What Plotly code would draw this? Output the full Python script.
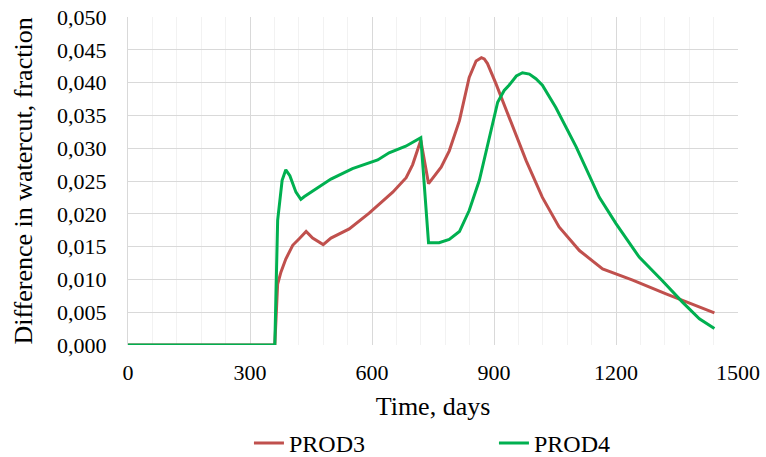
import plotly.graph_objects as go

# PROD3 watercut difference (days, fraction)
prod3_days = [0, 361, 368, 376, 388, 405, 421, 438, 454, 480, 499, 544, 593, 651,
              684, 700, 720, 739, 770, 790, 815, 839, 856, 869, 876, 884, 905, 937,
              979, 1019, 1060, 1110, 1167, 1241, 1323, 1442]
prod3_vals = [0.0, 0.0, 0.0093, 0.0111, 0.0131, 0.0152, 0.0162, 0.0173, 0.0163, 0.0153,
              0.0163, 0.0177, 0.0201, 0.0233, 0.0255, 0.0275, 0.0312, 0.0246, 0.0271,
              0.0296, 0.0342, 0.0408, 0.0433, 0.0438, 0.0436, 0.0429, 0.0398, 0.0347,
              0.0281, 0.0225, 0.0180, 0.0144, 0.0116, 0.0099, 0.0078, 0.0049]

# PROD4 watercut difference (days, fraction)
prod4_days = [0, 361, 368, 379, 388, 398, 413, 425, 433, 462, 499, 552, 614, 642,
              683, 720, 739, 765, 790, 815, 839, 864, 888, 909, 925, 937, 955, 970,
              987, 1003, 1019, 1052, 1102, 1159, 1200, 1257, 1314, 1364, 1405, 1442]
prod4_vals = [0.0, 0.0, 0.0190, 0.0251, 0.0267, 0.0258, 0.0233, 0.0222, 0.0226, 0.0238,
              0.0253, 0.0269, 0.0282, 0.0293, 0.0303, 0.0316, 0.0156, 0.0156, 0.0161,
              0.0173, 0.0205, 0.0251, 0.0317, 0.0370, 0.0388, 0.0396, 0.0410, 0.0415,
              0.0413, 0.0406, 0.0396, 0.0362, 0.0302, 0.0225, 0.0185, 0.0134, 0.0098,
              0.0065, 0.0040, 0.0025]

x_ticks = [0, 300, 600, 900, 1200, 1500]
y_ticks = [0.000, 0.005, 0.010, 0.015, 0.020, 0.025, 0.030, 0.035, 0.040, 0.045, 0.050]

FONT = "Liberation Serif, Times New Roman, serif"

fig = go.Figure()
fig.add_trace(go.Scatter(x=prod3_days, y=prod3_vals, mode="lines", name="PROD3",
                         line=dict(color="#C0504D", width=3)))
fig.add_trace(go.Scatter(x=prod4_days, y=prod4_vals, mode="lines", name="PROD4",
                         line=dict(color="#00B050", width=3)))

fig.update_layout(
    width=766, height=457,
    margin=dict(l=128, r=28, t=17, b=112, autoexpand=False),
    paper_bgcolor="white", plot_bgcolor="white",
    separators=",.",
    font=dict(family=FONT, size=22, color="#000000"),
    showlegend=True,
    legend=dict(orientation="h", xref="container", x=0.325, xanchor="left",
                yref="container", y=0.03, yanchor="middle",
                font=dict(family=FONT, size=24, color="#000000"),
                entrywidth=200, entrywidthmode="pixels",
                itemwidth=30, bgcolor="rgba(0,0,0,0)"),
)

fig.update_xaxes(
    range=[0, 1500], tickvals=x_ticks, ticktext=[str(v) for v in x_ticks],
    tickfont=dict(family=FONT, size=22, color="#000000"),
    showgrid=True, gridcolor="#D9D9D9", gridwidth=1,
    minor=dict(dtick=60, tick0=0, showgrid=True, gridcolor="#F2F2F2", gridwidth=1),
    zeroline=False, showline=False, ticks="", ticklabelstandoff=12,
    title=dict(text="Time, days", font=dict(family=FONT, size=26, color="#000000"),
               standoff=14),
)
fig.update_yaxes(
    range=[0, 0.05], tickvals=y_ticks, tickformat=".3f",
    tickfont=dict(family=FONT, size=22, color="#000000"),
    showgrid=True, gridcolor="#D9D9D9", gridwidth=1,
    zeroline=False, showline=True, linecolor="#D9D9D9", mirror=False,
    ticks="", ticklabelstandoff=16,
    title=dict(text="Difference in watercut, fraction",
               font=dict(family=FONT, size=26, color="#000000"), standoff=16),
)

fig.write_html("out.html")
